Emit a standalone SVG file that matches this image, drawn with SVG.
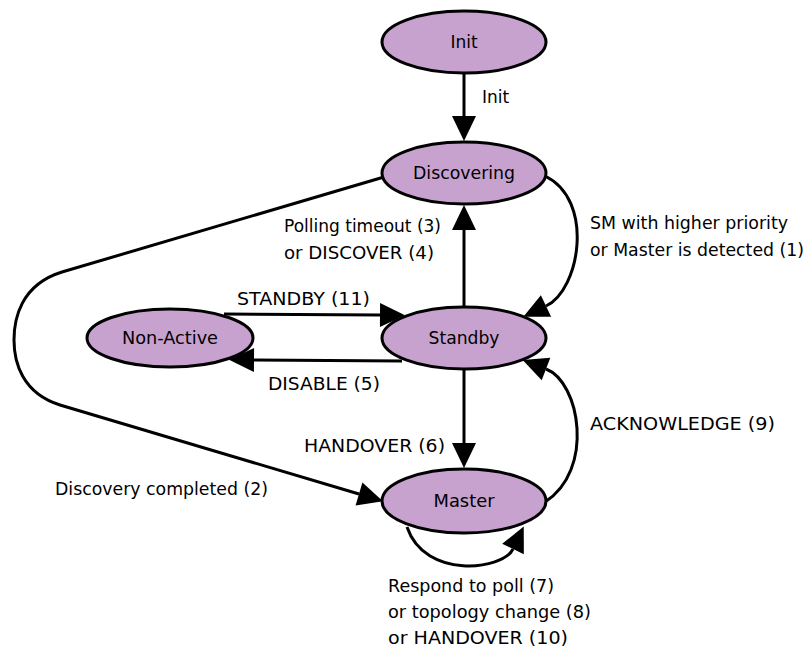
<svg xmlns="http://www.w3.org/2000/svg" width="809" height="650" viewBox="0 0 809 650">
  <style>
    .state ellipse { fill: #c8a2cf; stroke: #000; stroke-width: 3; }
    .state text { font-family: "DejaVu Sans", "Liberation Sans", sans-serif; font-size: 17px; text-anchor: middle; fill: #000; }
    .edge { fill: none; stroke: #000; stroke-width: 3; marker-end: url(#arrow); }
    .label { font-family: "DejaVu Sans", "Liberation Sans", sans-serif; font-size: 17px; fill: #000; }
  </style>
  <defs>
    <marker id="arrow" markerUnits="userSpaceOnUse" markerWidth="26" markerHeight="24" refX="0" refY="12" orient="auto" overflow="visible">
      <path d="M0,0 L25,12 L0,24 z" fill="#000"/>
    </marker>
  </defs>
  <rect width="809" height="650" fill="#fff"/>

  <g id="connectors">
    <!-- Init -> Discovering -->
    <path class="edge" d="M464,74 L464,116"/>
    <!-- Discovering -> Standby -->
    <path class="edge" d="M545,176 C595,200 580,290 546,306"/>
    <!-- Standby -> Discovering -->
    <path class="edge" d="M464,306 L464,230"/>
    <!-- Non-Active -> Standby -->
    <path class="edge" d="M224,314 L380,315"/>
    <!-- Standby -> Non-Active -->
    <path class="edge" d="M402,361 L254,360"/>
    <!-- Standby -> Master -->
    <path class="edge" d="M464,370 L464,443"/>
    <!-- Discovering -> Master -->
    <path class="edge" d="M384,177 L62,272 C20,285 14,320 14,340 C14,362 22,393 60,405 L359,494"/>
    <!-- Master -> Standby -->
    <path class="edge" d="M545,502 C595,470 580,382 546,369"/>
    <!-- Master self-loop -->
    <path class="edge" d="M407,527 C425,580 503,570 513,549"/>
  </g>

  <g id="edge-labels">
    <text class="label" x="482" y="103">Init</text>
    <text class="label" x="284" y="232" textLength="157" lengthAdjust="spacingAndGlyphs">Polling timeout (3)</text>
    <text class="label" x="284" y="259" textLength="150" lengthAdjust="spacingAndGlyphs">or DISCOVER (4)</text>
    <text class="label" x="590" y="229" textLength="198" lengthAdjust="spacingAndGlyphs">SM with higher priority</text>
    <text class="label" x="590" y="256" textLength="214" lengthAdjust="spacingAndGlyphs">or Master is detected (1)</text>
    <text class="label" x="237" y="305" textLength="133" lengthAdjust="spacingAndGlyphs">STANDBY (11)</text>
    <text class="label" x="268" y="390" textLength="112" lengthAdjust="spacingAndGlyphs">DISABLE (5)</text>
    <text class="label" x="304" y="452" textLength="141" lengthAdjust="spacingAndGlyphs">HANDOVER (6)</text>
    <text class="label" x="590" y="430" textLength="185" lengthAdjust="spacingAndGlyphs">ACKNOWLEDGE (9)</text>
    <text class="label" x="55" y="495" textLength="213" lengthAdjust="spacingAndGlyphs">Discovery completed (2)</text>
    <text class="label" x="388" y="592" textLength="166" lengthAdjust="spacingAndGlyphs">Respond to poll (7)</text>
    <text class="label" x="388" y="618" textLength="203" lengthAdjust="spacingAndGlyphs">or topology change (8)</text>
    <text class="label" x="388" y="644" textLength="180" lengthAdjust="spacingAndGlyphs">or HANDOVER (10)</text>
  </g>

  <g id="init" class="state">
    <ellipse cx="464" cy="42" rx="82" ry="31"/>
    <text x="464" y="48">Init</text>
  </g>
  <g id="discovering" class="state">
    <ellipse cx="464" cy="173" rx="82" ry="31"/>
    <text x="464" y="179" textLength="102" lengthAdjust="spacingAndGlyphs">Discovering</text>
  </g>
  <g id="non-active" class="state">
    <ellipse cx="170" cy="338" rx="83" ry="29"/>
    <text x="170" y="344" textLength="96" lengthAdjust="spacingAndGlyphs">Non-Active</text>
  </g>
  <g id="standby" class="state">
    <ellipse cx="464" cy="338" rx="82" ry="31"/>
    <text x="464" y="344" textLength="71" lengthAdjust="spacingAndGlyphs">Standby</text>
  </g>
  <g id="master" class="state">
    <ellipse cx="464" cy="501" rx="82" ry="32"/>
    <text x="464" y="507" textLength="61" lengthAdjust="spacingAndGlyphs">Master</text>
  </g>
</svg>
